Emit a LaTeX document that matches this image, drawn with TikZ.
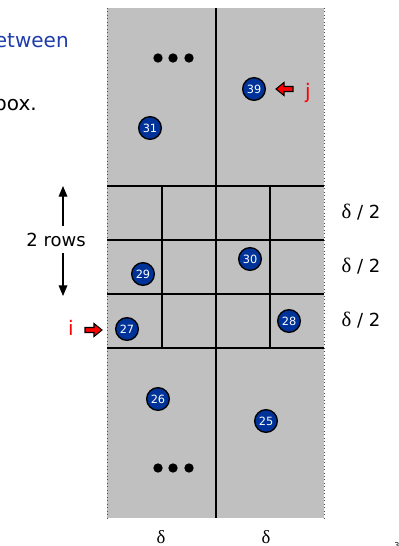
\documentclass[tikz,border=0pt]{standalone}
\usepackage{fontspec}
\setmainfont{DejaVu Sans}
\newfontfamily\deltafont{Liberation Serif}
\usetikzlibrary{arrows.meta}
\definecolor{cellgray}{RGB}{192,192,192}
\definecolor{ptblue}{RGB}{0,51,153}
\definecolor{txtblue}{RGB}{30,60,170}
\begin{document}
\begin{tikzpicture}[x=0.75pt,y=-0.75pt,
  pt/.style={circle,draw=black,line width=1pt,fill=ptblue,minimum size=17pt,inner sep=0pt,text=white,font=\fontsize{8.5}{9}\selectfont},
  gridline/.style={line width=1.1pt},
  midline/.style={line width=2.2pt},
  dotmark/.style={circle,fill=black,minimum size=7pt,inner sep=0pt},
  lbl/.style={font=\fontsize{13.5}{15}\selectfont},
  dlbl/.style={font=\fontsize{14}{16}\selectfont},
  redlbl/.style={text=red,font=\fontsize{15}{17}\selectfont},
  redarrow/.style={fill=red,draw=black,line width=0.8pt,line join=miter},
  vtip/.style={-{Triangle[length=8pt,width=6.5pt]},line width=0.9pt}]
\useasboundingbox (0,0) rectangle (399,546);
\clip (0,0) rectangle (399,546);
% gray strip
\fill[cellgray] (107,8) rectangle (324,518);
\draw[dotted,line width=0.6pt,black!70] (107,8) -- (107,518);
\draw[dotted,line width=0.6pt,black!70] (324,8) -- (324,518);
% grid
\foreach \yy in {186,240,294,348} \draw[gridline] (107,\yy) -- (324,\yy);
\foreach \xx in {162,270} \draw[gridline] (\xx,186) -- (\xx,348);
\draw[midline] (216,8) -- (216,518);
% dots
\node[dotmark] (d1) at (158,58) {};
\node[dotmark] (d2) at (173,58) {};
\node[dotmark] (d3) at (189,58) {};
\node[dotmark] (d4) at (158,468) {};
\node[dotmark] (d5) at (173,468) {};
\node[dotmark] (d6) at (189,468) {};
% points
\node[pt] (p31) at (150,128) {31};
\node[pt] (p39) at (254,89) {39};
\node[pt] (p29) at (143,274) {29};
\node[pt] (p30) at (250,259) {30};
\node[pt] (p27) at (127,329) {27};
\node[pt] (p28) at (289,321) {28};
\node[pt] (p26) at (158,399) {26};
\node[pt] (p25) at (266,421) {25};
% red arrows
\draw[redarrow] (293,86.5) -- (284,86.5) -- (284,82.5) -- (276,89) -- (284,95.5) -- (284,91.5) -- (293,91.5) -- cycle;
\node[redlbl] (jl) at (308,93) {j};
\draw[redarrow] (85,327.5) -- (94,327.5) -- (94,323.5) -- (102,330) -- (94,336.5) -- (94,332.5) -- (85,332.5) -- cycle;
\node[redlbl] (il) at (71,328) {i};
% 2 rows
\node[lbl] (rows) at (56,240) {2 rows};
\coordinate (upt) at (63,186);
\coordinate (dnt) at (63,296);
\draw[vtip] (63,226) -- (upt);
\draw[vtip] (63,253) -- (dnt);
% delta/2 labels
\node[lbl] (h1) at (361,212) {{\deltafont\fontsize{15.5}{15}\selectfont δ} / 2};
\node[lbl] (h2) at (361,266) {{\deltafont\fontsize{15.5}{15}\selectfont δ} / 2};
\node[lbl] (h3) at (361,320) {{\deltafont\fontsize{15.5}{15}\selectfont δ} / 2};
\node[dlbl] (w1) at (161,537) {\deltafont δ};
\node[dlbl] (w2) at (266,537) {\deltafont δ};
% cut-off slide text
\node[anchor=base east,text=txtblue,font=\fontsize{15}{17}\selectfont,inner sep=0pt] (t1) at (69,47) {between};
\node[anchor=base east,font=\fontsize{15}{17}\selectfont,inner sep=0pt] (t2) at (37,110) {box.};
\node[anchor=base west,font=\fontsize{6}{7}\selectfont,inner sep=0pt] (pg) at (394,548) {3};
\end{tikzpicture}
\end{document}
